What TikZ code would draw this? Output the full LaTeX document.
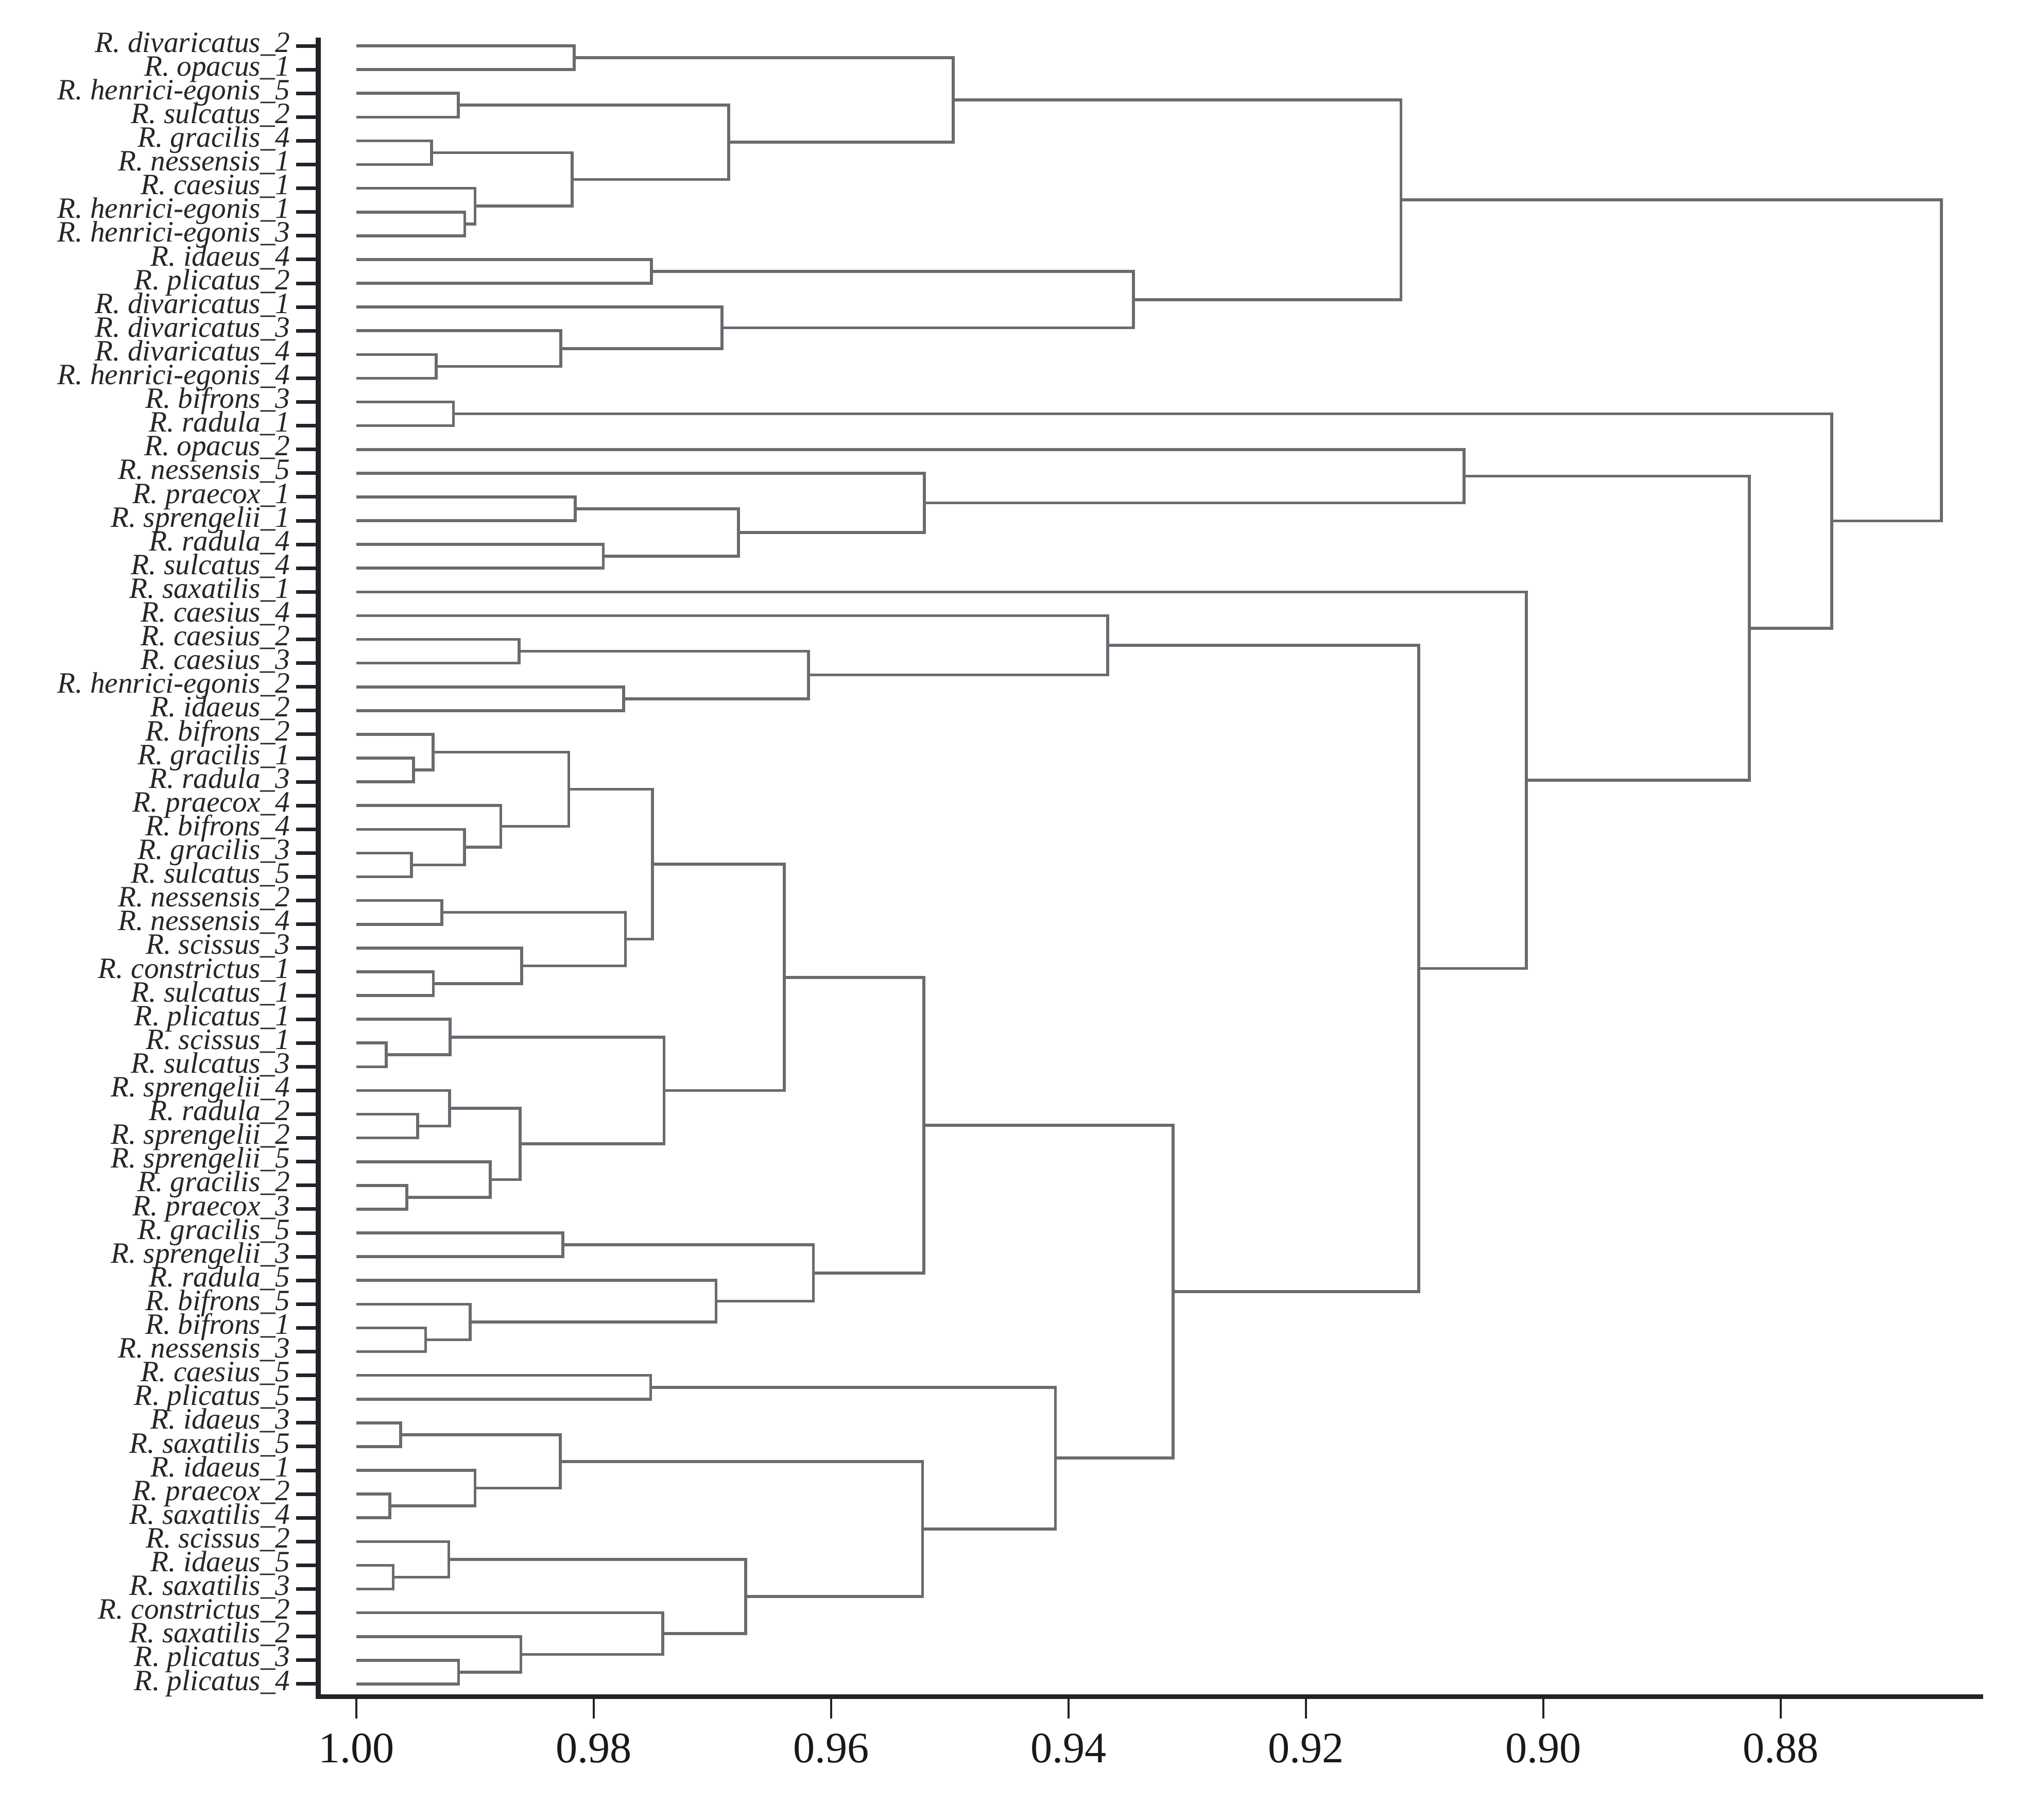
\documentclass[tikz,border=0pt]{standalone}
\usepackage{fontspec}
\setmainfont{Liberation Serif}
\usetikzlibrary{calc}
\definecolor{branchgray}{RGB}{104,107,112}
\definecolor{axisdark}{RGB}{32,36,40}

% parent coordinate at similarity #4, halfway between its two children
\newcommand{\branchjoin}[4]{%
  \path let \p1 = ($(#2)!0.5!(#3)$), \p2 = ({(1-#4)*100},0) in coordinate (#1) at (\x2,\y1);
  \draw[branch] (#2) -| (#1) |- (#3);}

\begin{document}
\begin{tikzpicture}[
  x = {(2.305cm,0)}, y = {(0,-0.461cm)},
  branch/.style = {line width=1.6pt, branchgray},
  axis/.style = {line width=2.6pt, axisdark},
  leaftick/.style = {line width=2pt, axisdark},
  scaletick/.style = {line width=0.9pt, axisdark},
  taxon/.style = {anchor=east, inner sep=0pt, text height=1.5ex, text depth=0pt, text=black!85,
    font=\fontsize{16.3pt}{16.3pt}\selectfont\itshape},
  scalelabel/.style = {inner sep=0pt, text=black!90, font=\fontsize{24pt}{24pt}\selectfont}
]
  \useasboundingbox (-3.002,-0.931) rectangle (14.10,75.71);

  % leaves
  \foreach \sp/\no [count=\i] in {divaricatus/2, opacus/1, henrici-egonis/5, sulcatus/2, gracilis/4,
      nessensis/1, caesius/1, henrici-egonis/1, henrici-egonis/3, idaeus/4, plicatus/2, divaricatus/1,
      divaricatus/3, divaricatus/4, henrici-egonis/4, bifrons/3, radula/1, opacus/2, nessensis/5,
      praecox/1, sprengelii/1, radula/4, sulcatus/4, saxatilis/1, caesius/4, caesius/2, caesius/3,
      henrici-egonis/2, idaeus/2, bifrons/2, gracilis/1, radula/3, praecox/4, bifrons/4, gracilis/3,
      sulcatus/5, nessensis/2, nessensis/4, scissus/3, constrictus/1, sulcatus/1, plicatus/1,
      scissus/1, sulcatus/3, sprengelii/4, radula/2, sprengelii/2, sprengelii/5, gracilis/2,
      praecox/3, gracilis/5, sprengelii/3, radula/5, bifrons/5, bifrons/1, nessensis/3, caesius/5,
      plicatus/5, idaeus/3, saxatilis/5, idaeus/1, praecox/2, saxatilis/4, scissus/2, idaeus/5,
      saxatilis/3, constrictus/2, saxatilis/2, plicatus/3, plicatus/4} {
    \coordinate (L\i) at (0,\i);
    \draw[leaftick] (-0.508,\i) -- (-0.321,\i);
    \node[taxon] (lab\i) at (-0.555,\i) {R. \sp\_\no};
  }

  % clusters: parent/child/child/similarity
  \foreach \cl/\ka/\kb/\sv in {a1/L1/L2/0.98165, a2/L3/L4/0.99141, a3/L5/L6/0.99367, a4/L8/L9/0.99086,
      a5/L7/a4/0.9900, a6/a3/a5/0.98182, a7/a2/a6/0.96863, a8/a1/a7/0.9497, a9/L10/L11/0.97514,
      a10/L14/L15/0.99328, a11/L13/a10/0.98278, a12/L12/a11/0.9692, a13/a9/a12/0.93453,
      a14/a8/a13/0.9120,
      b1/L16/L17/0.99182, b2/L20/L21/0.98157, b3/L22/L23/0.9792, b4/b2/b3/0.9678,
      b5/L19/b4/0.95215, b6/L18/b5/0.9067,
      c1/L26/L27/0.9863, c2/L28/L29/0.9775, c3/c1/c2/0.9619, c4/L25/c3/0.9367,
      d1/L31/L32/0.9952, d2/L30/d1/0.99353, d3/L35/L36/0.99535, d4/L34/d3/0.99087,
      d5/L33/d4/0.98782, d6/d2/d5/0.9821, d7/L37/L38/0.9928, d8/L40/L41/0.99351,
      d9/L39/d8/0.98607, d10/d7/d9/0.97732, d11/d6/d10/0.97505, d12/L43/L44/0.99748,
      d13/L42/d12/0.9921, d14/L46/L47/0.99484, d15/L45/d14/0.99215, d16/L49/L50/0.99575,
      d17/L48/d16/0.98873, d18/d15/d17/0.9862, d19/d13/d18/0.97407, d20/d11/d19/0.96395,
      d21/L51/L52/0.9826, d22/L55/L56/0.99415, d23/L54/d22/0.99041, d24/L53/d23/0.9697,
      d25/d21/d24/0.9615, d26/d20/d25/0.9522,
      e1/L57/L58/0.9752, e2/L59/L60/0.99627, e3/L62/L63/0.99718, e4/L61/e3/0.9900,
      e5/e2/e4/0.98282, e6/L65/L66/0.9969, e7/L64/e6/0.9922, e8/L69/L70/0.9914,
      e9/L68/e8/0.98615, e10/L67/e9/0.9742, e11/e7/e10/0.9672, e12/e5/e11/0.9523,
      e13/e1/e12/0.9411,
      f1/d26/e13/0.9312, f2/c4/f1/0.9105, f3/L24/f2/0.90143, f4/b6/f3/0.88265,
      f5/b1/f4/0.8757, root/a14/f5/0.86646}
    \branchjoin{\cl}{\ka}{\kb}{\sv};

  % axes
  \draw[axis] (-0.321,0.653) -- (-0.321,70.54) -- (13.705,70.54);
  \foreach \x/\lab in {0/1.00, 2/0.98, 4/0.96, 6/0.94, 8/0.92, 10/0.90, 12/0.88} {
    \draw[scaletick] (\x,70.54) -- (\x,71.46);
    \node[scalelabel] (t\x) at (\x,72.71) {\lab};
  }
\end{tikzpicture}
\end{document}
